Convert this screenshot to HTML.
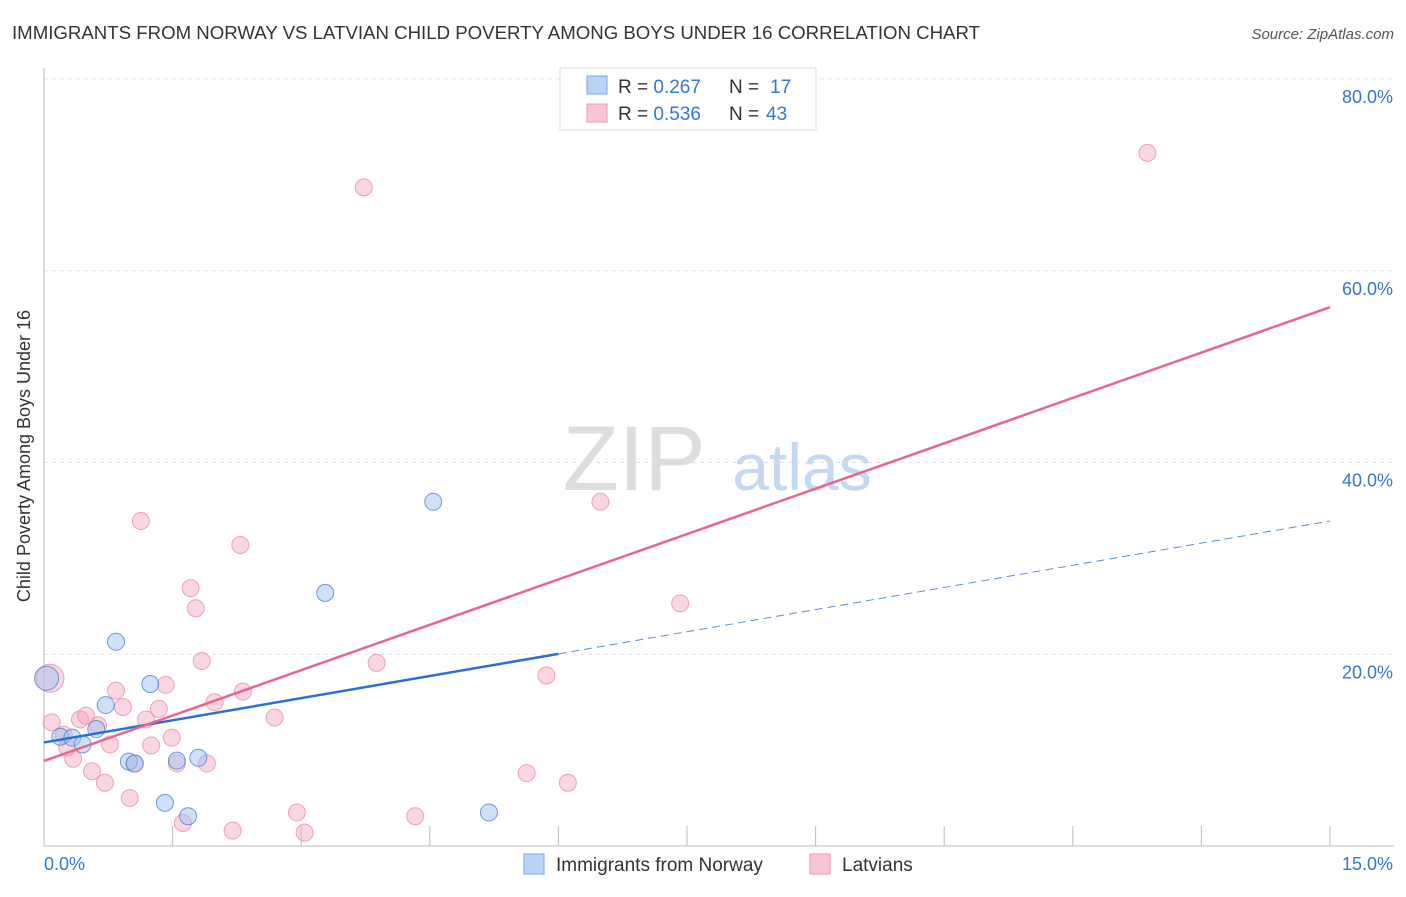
<!DOCTYPE html>
<html><head><meta charset="utf-8"><style>
body{margin:0;background:#fff;font-family:"Liberation Sans",sans-serif}
svg text{font-family:"Liberation Sans",sans-serif}
</style></head><body>
<svg id="c" width="1406" height="892">
<text x="12" y="39" font-size="18" fill="#333" textLength="968" lengthAdjust="spacingAndGlyphs">IMMIGRANTS FROM NORWAY VS LATVIAN CHILD POVERTY AMONG BOYS UNDER 16 CORRELATION CHART</text>
<text x="1394" y="39" font-size="15" fill="#555" font-style="italic" text-anchor="end">Source: ZipAtlas.com</text>
<text x="30" y="456" font-size="18" fill="#333" text-anchor="middle" transform="rotate(-90 30 456)">Child Poverty Among Boys Under 16</text>
<g><text x="634" y="490" font-size="92" fill="#ddd" font-family="Liberation Serif" text-anchor="middle">ZIP</text><text x="802" y="490" font-size="66" fill="#c5d8ef" text-anchor="middle">atlas</text></g>
<g id="grid"></g><g id="axes"></g><g id="marks"></g>
<g>
<rect x="560" y="68" width="256" height="62" fill="#fff" stroke="#ddd"/>
<rect x="587" y="76" width="20" height="18" fill="#b8d3f5" stroke="#7aa6e6"/>
<text x="618" y="93" font-size="19" fill="#333">R = <tspan fill="#3575d5">0.267</tspan></text>
<text x="729" y="93" font-size="19" fill="#333">N = <tspan fill="#3575d5" x="770">17</tspan></text>
<rect x="587" y="104" width="20" height="18" fill="#f8c6d5" stroke="#ec9ab2"/>
<text x="618" y="120" font-size="19" fill="#333">R = <tspan fill="#3575d5">0.536</tspan></text>
<text x="729" y="120" font-size="19" fill="#333">N = <tspan fill="#3575d5" x="766">43</tspan></text>
</g>
<g>
<rect x="524" y="854" width="20" height="20" fill="#b8d3f5" stroke="#7aa6e6"/>
<text x="556" y="871" font-size="19" fill="#333">Immigrants from Norway</text>
<rect x="810" y="854" width="20" height="20" fill="#f8c6d5" stroke="#ec9ab2"/>
<text x="842" y="871" font-size="19" fill="#333">Latvians</text>
</g>
</svg>
<script>
const blueX=[0.03,0.19,0.33,0.45,0.61,0.72,0.84,0.99,1.06,1.24,1.41,1.55,1.68,1.80,3.28,4.54,5.19];
const blueY=[17.5,11.4,11.3,10.6,12.2,14.7,21.3,8.8,8.6,16.9,4.5,8.9,3.1,9.2,26.4,35.9,3.5];
const pinkX=[0.07,0.09,0.42,0.49,0.63,0.34,0.27,0.77,0.84,0.92,0.56,0.71,1.00,1.42,1.19,1.34,1.25,1.49,1.05,1.55,1.90,1.84,1.99,2.32,2.69,1.62,2.20,2.95,3.04,1.13,2.29,1.71,1.77,3.73,3.88,6.49,7.42,5.86,5.63,6.11,4.33,12.87,0.23];
const pinkY=[17.5,12.9,13.2,13.6,12.6,9.1,10.3,10.6,16.2,14.5,7.8,6.6,5.0,16.8,13.2,14.3,10.5,11.3,8.6,8.6,8.6,19.3,15.0,16.1,13.4,2.4,1.6,3.5,1.4,33.9,31.4,26.9,24.8,68.7,19.1,35.9,25.3,17.8,7.6,6.6,3.1,72.3,11.6];
const pinkTrend=[8.87,56.2];
const blueTrend=[10.8,33.9];
const blueSolidEnd=6.0;
const yTicks=[20,40,60,80];
const xTickLabels=["0.0%","15.0%"];
const X=v=>44+v/15*1286, Y=v=>846-v*9.5875;
const NS="http://www.w3.org/2000/svg";
function mk(p,t,a){const e=document.createElementNS(NS,t);for(const k in a)e.setAttribute(k,a[k]);p.appendChild(e);return e;}
const grid=document.getElementById('grid'),axes=document.getElementById('axes'),marks=document.getElementById('marks');
yTicks.forEach(v=>{
 const l=mk(grid,'line',{x1:44,x2:1394,y1:Y(v),y2:Y(v),stroke:'#e2e2e2','stroke-dasharray':'4 4'});
 
 
 const t=mk(axes,'text',{x:1393,y:Y(v)+24,'font-size':18,fill:'#3575d5','text-anchor':'end'});t.textContent=v.toFixed(1)+'%';
 
 
});
mk(axes,'line',{x1:44,x2:44,y1:68,y2:846,stroke:'#bbb'});
mk(axes,'line',{x1:44,x2:1394,y1:846,y2:846,stroke:'#bbb'});
for(let i=1;i<=10;i++){const tk=mk(axes,'line',{x1:X(i*1.5),x2:X(i*1.5),y1:826,y2:846,stroke:'#bbb'});
 
 }
const t0=mk(axes,'text',{x:44,y:870,'font-size':18,fill:'#3575d5'});t0.textContent=xTickLabels[0];


const t1=mk(axes,'text',{x:1393,y:870,'font-size':18,fill:'#3575d5','text-anchor':'end'});t1.textContent=xTickLabels[1];


pinkX.forEach((x,i)=>{const c=mk(marks,'circle',{cx:X(x),cy:Y(pinkY[i]),r:i===0?14:8.5,fill:'rgba(244,164,189,0.45)',stroke:'rgba(232,130,160,0.7)'});
 
 });
blueX.forEach((x,i)=>{const c=mk(marks,'circle',{cx:X(x),cy:Y(blueY[i]),r:i===0?12:8.5,fill:'rgba(160,196,240,0.5)',stroke:'rgba(80,130,215,0.8)'});
 
 });
const bAt=x=>blueTrend[0]+(blueTrend[1]-blueTrend[0])*x/15;
const bd=mk(marks,'line',{x1:X(blueSolidEnd),y1:Y(bAt(blueSolidEnd)),x2:X(15),y2:Y(blueTrend[1]),stroke:'#5a8fd8','stroke-width':1,'stroke-dasharray':'8 5'});


const bs=mk(marks,'line',{x1:X(0),y1:Y(blueTrend[0]),x2:X(blueSolidEnd),y2:Y(bAt(blueSolidEnd)),stroke:'#2a6fd6','stroke-width':2.5});


const pl=mk(marks,'line',{x1:X(0),y1:Y(pinkTrend[0]),x2:X(15),y2:Y(pinkTrend[1]),stroke:'#e8658f','stroke-width':2.5});


</script>
</body></html>
